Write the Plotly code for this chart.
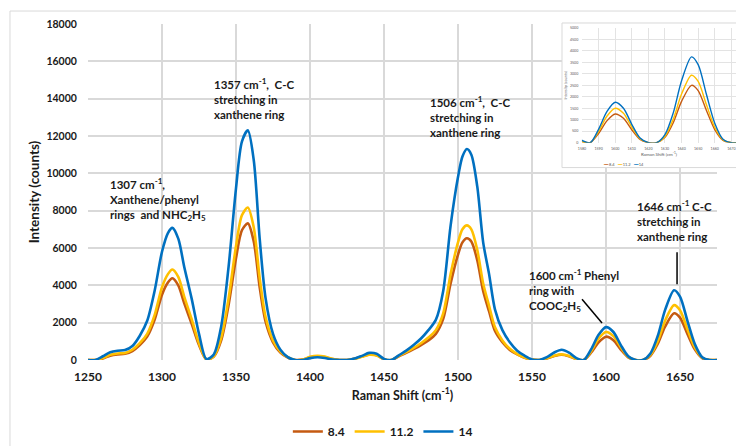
import plotly.graph_objects as go

# ---------------- data ----------------
raman_shift = [1250, 1255, 1260, 1265, 1270, 1275, 1280, 1285, 1290, 1295, 1300, 1304, 1307, 1311, 1315,
               1320, 1325, 1330, 1335, 1340, 1345, 1350, 1354, 1358, 1362, 1366, 1370, 1375, 1380, 1385,
               1390, 1395, 1400, 1405, 1410, 1415, 1420, 1425, 1430, 1435, 1440, 1445, 1450, 1455, 1460,
               1465, 1470, 1475, 1480, 1485, 1490, 1495, 1500, 1503, 1506, 1509, 1513, 1517, 1521, 1525,
               1530, 1535, 1540, 1545, 1550, 1555, 1560, 1565, 1570, 1575, 1580, 1585, 1590, 1595, 1600,
               1605, 1610, 1615, 1620, 1625, 1630, 1635, 1640, 1646, 1650, 1655, 1660, 1665, 1670, 1675]

intensity_14 = [0, 0, 200, 420, 500, 530, 750, 1300, 2100, 3700, 5800, 6800, 7080, 6500, 5000,
                3300, 1400, 50, 300, 1800, 5000, 9200, 11700, 12300, 10700, 6500, 3300, 1400, 550, 150,
                0, 0, 100, 150, 110, 30, 0, 0, 80, 220, 380, 330, 60, 0, 250,
                500, 800, 1150, 1600, 2150, 3700, 7200, 9800, 10900, 11300, 11000, 9300, 6300, 4600, 2700,
                1600, 950, 500, 230, 30, 0, 150, 400, 550, 400, 100, 0, 580, 1350, 1760,
                1500, 800, 200, 0, 0, 350, 1300, 2700, 3740, 3400, 2100, 850, 150, 0, 0]

intensity_11_2 = [0, 0, 100, 280, 350, 380, 550, 900, 1400, 2400, 3900, 4600, 4850, 4450, 3400,
                  2200, 900, 30, 200, 1200, 3300, 6100, 7750, 8170, 7100, 4400, 2300, 1050, 450, 150,
                  0, 20, 170, 230, 180, 60, 0, 0, 60, 170, 280, 240, 40, 0, 220,
                  420, 650, 900, 1200, 1600, 2500, 4600, 6300, 7000, 7210, 7000, 5900, 4100, 2900, 1750,
                  1050, 600, 320, 130, 20, 0, 90, 230, 300, 220, 50, 0, 480, 1150, 1500,
                  1280, 680, 170, 0, 0, 270, 1020, 2120, 2940, 2670, 1650, 670, 120, 0, 0]

intensity_8_4 = [0, 0, 80, 230, 300, 330, 480, 800, 1250, 2150, 3500, 4150, 4380, 4000, 3050,
                 1950, 800, 30, 180, 1050, 2950, 5450, 6950, 7320, 6350, 3900, 2050, 950, 400, 130,
                 0, 20, 140, 200, 150, 50, 0, 0, 70, 190, 300, 260, 40, 0, 200,
                 380, 580, 800, 1050, 1400, 2200, 4100, 5650, 6300, 6520, 6350, 5350, 3700, 2600, 1550,
                 950, 540, 300, 120, 20, 0, 80, 210, 280, 200, 50, 0, 400, 950, 1250,
                 1060, 560, 140, 0, 0, 230, 870, 1800, 2500, 2270, 1400, 570, 100, 0, 0]

series_names = ["8.4", "11.2", "14"]
series_values = [intensity_8_4, intensity_11_2, intensity_14]
series_colors = ["#C55A11", "#FFC000", "#0070C0"]

x_ticks = [1250, 1300, 1350, 1400, 1450, 1500, 1550, 1600, 1650]
y_ticks = [0, 2000, 4000, 6000, 8000, 10000, 12000, 14000, 16000, 18000]
inset_x_ticks = [1580, 1590, 1600, 1610, 1620, 1630, 1640, 1650, 1660, 1670]
inset_y_ticks = [0, 500, 1000, 1500, 2000, 2500, 3000, 3500, 4000, 4500, 5000]

FONT = "Lato"
TXT = "#1a1a1a"
GRID = "#d9d9d9"

fig = go.Figure()

# main curves
for name, vals, col in zip(series_names, series_values, series_colors):
    fig.add_trace(go.Scatter(x=raman_shift, y=vals, name=name, mode="lines",
                             line=dict(color=col, width=2.6, shape="spline", smoothing=0.8),
                             xaxis="x", yaxis="y"))

# white card behind the inset
fig.add_trace(go.Scatter(x=[0, 1, 1, 0, 0], y=[0, 0, 1, 1, 0], mode="lines", fill="toself",
                         fillcolor="white", line=dict(width=0), hoverinfo="skip",
                         showlegend=False, xaxis="x2", yaxis="y2"))

# inset curves
for name, vals, col in zip(series_names, series_values, series_colors):
    fig.add_trace(go.Scatter(x=raman_shift, y=vals, name=name, mode="lines", showlegend=False,
                             line=dict(color=col, width=1.4, shape="spline", smoothing=0.8),
                             xaxis="x3", yaxis="y3"))

annotations = [
    dict(x=1263.5, y=9950, text="1307 cm<sup>-1</sup>,<br>Xanthene/phenyl<br>rings  and NHC<sub>2</sub>H<sub>5</sub>"),
    dict(x=1333.8, y=15320, text="1357 cm<sup>-1</sup>,  C-C<br>stretching in<br>xanthene ring"),
    dict(x=1479.7, y=14370, text="1506 cm<sup>-1</sup>,  C-C<br>stretching in<br>xanthene ring"),
    dict(x=1546.6, y=5100, text="1600 cm<sup>-1</sup> Phenyl<br>ring with<br>COOC<sub>2</sub>H<sub>5</sub>"),
    dict(x=1619.6, y=8760, text="1646 cm<sup>-1</sup> C-C<br>stretching in<br>xanthene ring"),
]
ann_list = []
for a in annotations:
    ann_list.append(dict(x=a["x"], y=a["y"], xref="x", yref="y", text=a["text"], showarrow=False,
                         xanchor="left", yanchor="top", align="left",
                         font=dict(family=FONT, size=11.5, color=TXT, weight="bold")))

# inset legend (small)
ann_list.append(dict(x=0.826, y=0.583, xref="paper", yref="paper", showarrow=False,
                     xanchor="center", yanchor="middle",
                     text="<span style='color:#C55A11'>━━</span> 8.4   "
                          "<span style='color:#FFC000'>━━</span> 11.2   "
                          "<span style='color:#0070C0'>━━</span> 14",
                     font=dict(family=FONT, size=4, color="#595959")))

shapes = [
    # outer chart frame
    dict(type="rect", xref="paper", yref="paper", x0=-0.1204, x1=1.01, y0=-0.27, y1=1.0386,
         line=dict(color=GRID, width=1), fillcolor="rgba(0,0,0,0)", layer="above"),
    # inset frame
    dict(type="rect", xref="paper", yref="paper", x0=0.7315, x1=1.01, y0=0.5727, y1=1.003,
         line=dict(color=GRID, width=1), fillcolor="rgba(0,0,0,0)", layer="above"),
    # pointer lines
    dict(type="line", xref="x", yref="y", x0=1583.8, y0=3260, x1=1597.3, y1=1980,
         line=dict(color="black", width=1.5)),
    dict(type="line", xref="x", yref="y", x0=1648, y0=5770, x1=1648, y1=4060,
         line=dict(color="black", width=1.5)),
]

fig.update_layout(
    width=736, height=446,
    margin=dict(l=88, r=0, t=24, b=85),
    paper_bgcolor="white", plot_bgcolor="white",
    font=dict(family=FONT, color=TXT),
    showlegend=True,
    legend=dict(orientation="h", x=0.455, xanchor="center", y=-0.2136, yanchor="middle",
                font=dict(family=FONT, size=12, color=TXT, weight="bold"),
                bgcolor="rgba(0,0,0,0)", itemwidth=30),
    xaxis=dict(domain=[0, 0.9707], range=[1250, 1675], tickvals=x_ticks, showgrid=True,
               gridcolor=GRID, gridwidth=1.5, zeroline=False, showline=False,
               ticks="outside", ticklen=6, tickcolor="rgba(0,0,0,0)", tickformat="d",
               tickfont=dict(family=FONT, size=12, color=TXT, weight="bold"),
               title=dict(text="Raman Shift (cm<sup>-1</sup>)", standoff=7,
                          font=dict(family=FONT, size=12.5, color=TXT, weight="bold")),
               anchor="y"),
    yaxis=dict(domain=[0, 1], range=[0, 18000], tickvals=y_ticks, showgrid=True,
               gridcolor=GRID, gridwidth=1.5, zeroline=False, showline=False,
               ticks="outside", ticklen=8, tickcolor="rgba(0,0,0,0)", tickformat="d",
               tickfont=dict(family=FONT, size=10.5, color=TXT, weight="bold"),
               title=dict(text="Intensity (counts)", standoff=3,
                          font=dict(family=FONT, size=13.5, color=TXT, weight="bold")),
               anchor="x"),
    xaxis2=dict(domain=[0.7315, 1.0], range=[0, 1], visible=False, anchor="y2", fixedrange=True),
    yaxis2=dict(domain=[0.5727, 1.0], range=[0, 1], visible=False, anchor="x2", fixedrange=True),
    xaxis3=dict(domain=[0.7623, 1.0], range=[1580, 1672.8], tickvals=inset_x_ticks, showgrid=True,
                gridcolor="#e3e3e3", gridwidth=0.8, zeroline=False, showline=False,
                ticks="outside", ticklen=2, tickcolor="rgba(0,0,0,0)", tickformat="d",
                tickfont=dict(family=FONT, size=3.6, color="#595959"),
                title=dict(text="Raman Shift (cm<sup>-1</sup>)", standoff=2,
                           font=dict(family=FONT, size=4.5, color="#595959")),
                anchor="y3"),
    yaxis3=dict(domain=[0.6469, 0.9881], range=[0, 5000], tickvals=inset_y_ticks, showgrid=True,
                gridcolor="#e3e3e3", gridwidth=0.8, zeroline=False, showline=False,
                ticks="outside", ticklen=2, tickcolor="rgba(0,0,0,0)", tickformat="d",
                tickfont=dict(family=FONT, size=3.6, color="#595959"),
                title=dict(text="Intensity (counts)", standoff=2,
                           font=dict(family=FONT, size=3.8, color="#595959")),
                anchor="x3"),
    annotations=ann_list,
    shapes=shapes,
)

fig.write_html("out.html", config={"displayModeBar": False},
               post_script="document.body.style.margin='0';document.body.style.padding='0';")
